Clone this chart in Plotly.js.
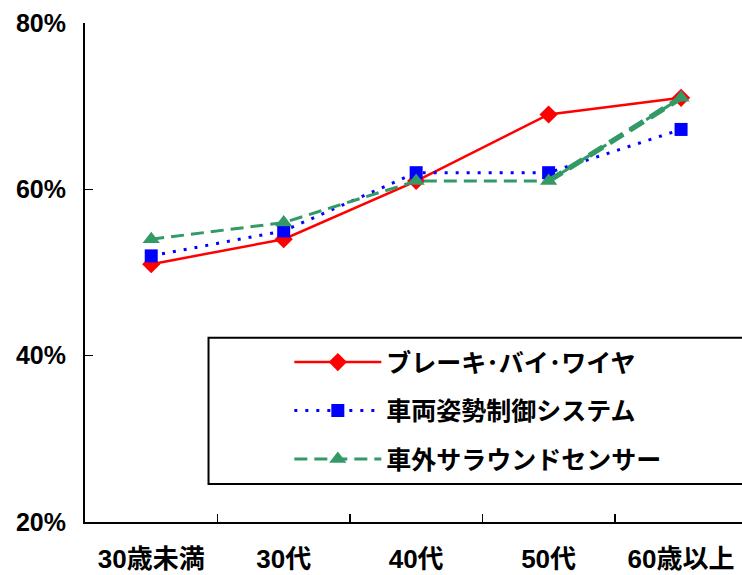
<!DOCTYPE html>
<html>
<head>
<meta charset="utf-8">
<script src="https://cdn.plot.ly/plotly-3.0.1.min.js"></script>
<style>html,body{margin:0;padding:0;background:#fff;overflow:hidden}#chart{width:742px;height:575px}</style>
</head>
<body>
<div id="chart"></div>
<script>
const categories = ["30歳未満", "30代", "40代", "50代", "60歳以上"];
const seriesNames = ["ブレーキ･バイ･ワイヤ", "車両姿勢制御システム", "車外サラウンドセンサー"];
const brakeByWire = [51, 54, 61, 69, 71];
const vehicleControl = [52, 55, 62, 62, 67.2];
const surroundSensor = [54, 56, 61, 61, 71];
const yTicks = [20, 40, 60, 80];

const FONT = "'Liberation Sans', 'Noto Sans CJK JP', sans-serif";

const traces = [
  {
    x: categories, y: brakeByWire, name: seriesNames[0], type: "scatter", mode: "lines+markers",
    line: {color: "#FF0000", width: 2.5},
    marker: {symbol: "diamond", size: 14, color: "#FF0000"},
    legendgroup: "a"
  },
  {
    x: categories, y: vehicleControl, name: seriesNames[1], type: "scatter", mode: "lines+markers",
    line: {color: "#0000FF", width: 3, dash: "3px,8px"},
    marker: {symbol: "square", size: 13, color: "#0000FF"},
    legendgroup: "b"
  },
  {
    x: categories, y: surroundSensor, name: seriesNames[2], type: "scatter", mode: "lines+markers",
    line: {color: "#339966", width: 3, dash: "13px,7px"},
    marker: {symbol: "triangle-up", size: 15, color: "#339966"},
    legendgroup: "c"
  },
  {
    x: categories.slice(3), y: surroundSensor.slice(3), type: "scatter", mode: "lines",
    line: {color: "#339966", width: 5.5, dash: "16px,8px"},
    showlegend: false, hoverinfo: "skip"
  }
];

const layout = {
  width: 742, height: 575,
  margin: {l: 85, r: 0, t: 23, b: 53},
  paper_bgcolor: "#fff", plot_bgcolor: "#fff",
  font: {family: FONT, color: "#000", weight: "bold"},
  showlegend: true,
  xaxis: {
    type: "category",
    range: [-0.5, 4.46],
    tickson: "boundaries",
    ticks: "inside", ticklen: 8, tickwidth: 1.5, tickcolor: "#000",
    showline: true, linecolor: "#000", linewidth: 2,
    showgrid: false, zeroline: false,
    tickfont: {family: FONT, size: 26, color: "#000", weight: "bold"},
    ticklabelstandoff: 13
  },
  yaxis: {
    range: [20, 80],
    tickvals: yTicks,
    ticktext: yTicks.map(v => v + "%"),
    ticks: "inside", ticklen: 8, tickwidth: 1.5, tickcolor: "#000",
    showline: true, linecolor: "#000", linewidth: 2,
    showgrid: false, zeroline: false,
    tickfont: {family: FONT, size: 25, color: "#000", weight: "bold"},
    ticklabelstandoff: 12
  },
  legend: {
    x: 0.311, xanchor: "left",
    y: 0.366, yanchor: "top",
    bgcolor: "rgba(0,0,0,0)",
    borderwidth: 0,
    traceorder: "grouped",
    tracegroupgap: 13,
    itemwidth: 87,
    font: {family: FONT, size: 25, color: "#000", weight: "bold"}
  },
  shapes: [
    {type: "rect", xref: "paper", yref: "paper", x0: 0.188, x1: 1.05, y0: 0.076, y1: 0.369,
     line: {color: "#000", width: 2}, fillcolor: "#fff", layer: "below"}
  ]
};

Plotly.newPlot("chart", traces, layout, {displayModeBar: false, staticPlot: true});
</script>
</body>
</html>
